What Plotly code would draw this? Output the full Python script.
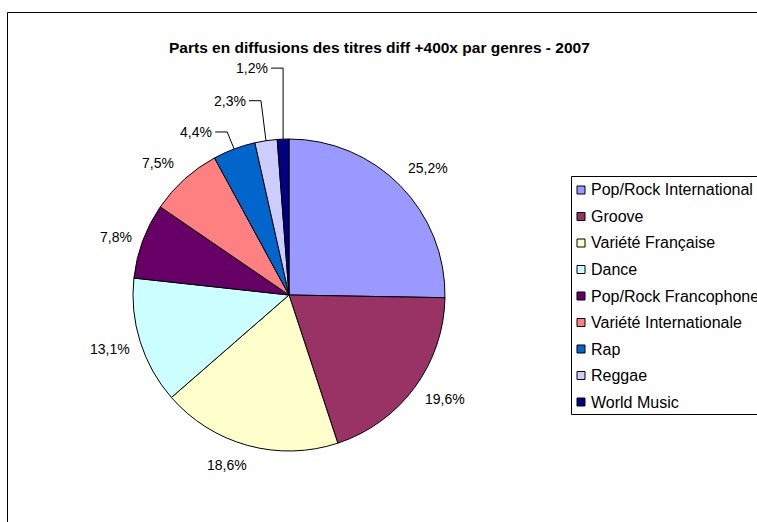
import math
import plotly.graph_objects as go

W, H = 757, 522

genres = ["Pop/Rock International", "Groove", "Variété Française", "Dance",
          "Pop/Rock Francophone", "Variété Internationale", "Rap", "Reggae", "World Music"]
parts = [25.2, 19.6, 18.6, 13.1, 7.8, 7.5, 4.4, 2.3, 1.2]
colors = ["#9999FF", "#993366", "#FFFFCC", "#CCFFFF", "#660066",
          "#FF8080", "#0066CC", "#CCCCFF", "#000080"]
title_text = "Parts en diffusions des titres diff +400x par genres - 2007"

FONT = "Liberation Sans, Arial, sans-serif"

# geometrie du camembert (pixels)
CX, CY, R = 289, 295, 156
LABEL_DIST = 185
# petits decalages des etiquettes exterieures (comme placees par Excel)
label_nudges = {"Pop/Rock International": (7, 3), "Groove": (7, -6), "Variété Française": (-13, -8),
                "Dance": (-2, -1), "Pop/Rock Francophone": (0, 6), "Variété Internationale": (-7, 5)}
# etiquettes deplacees a la main dans l'original (avec trait de rappel)
leader_offsets = {"Rap": (-7, -17), "Reggae": (-5, -40), "World Music": (0, -71)}


def px(x):
    return x / W


def py(y):
    return 1 - y / H


fig = go.Figure()
fig.add_trace(go.Pie(
    labels=genres,
    values=parts,
    sort=False,
    direction="clockwise",
    rotation=0,
    textinfo="none",
    hoverinfo="label+percent",
    showlegend=False,
    marker=dict(colors=colors, line=dict(color="black", width=1)),
    domain=dict(x=[px(CX - R), px(CX + R)], y=[py(CY + R), py(CY - R)]),
))

annotations = [dict(
    text="<b>" + title_text + "</b>", x=px(379), y=py(37), xref="paper", yref="paper",
    showarrow=False, font=dict(family=FONT, size=15.5, color="black"),
)]
shapes = [
    # cadre du graphique
    dict(type="rect", xref="paper", yref="paper", x0=px(7.5), y0=py(12.5), x1=px(W + 5), y1=py(H + 5),
         line=dict(color="black", width=1)),
    # cadre de la legende
    dict(type="rect", xref="paper", yref="paper", x0=px(571.5), y0=py(176.5), x1=px(W + 5), y1=py(414.5),
         line=dict(color="black", width=1), fillcolor="white"),
]

total = sum(parts)
cum = 0.0
for name, value in zip(genres, parts):
    theta = (cum + value / 2) / total * 2 * math.pi
    cum += value
    label = f"{value:.1f}".replace(".", ",") + "%"
    sx, sy = math.sin(theta), -math.cos(theta)
    if name in leader_offsets:
        ex, ey = CX + R * sx, CY + R * sy
        dx, dy = leader_offsets[name]
        kx, ky = ex + dx, ey + dy
        shapes.append(dict(
            type="path", xref="paper", yref="paper",
            path=f"M {px(ex)},{py(ey)} L {px(kx)},{py(ky)} L {px(kx - 12)},{py(ky)}",
            line=dict(color="black", width=1),
        ))
        annotations.append(dict(
            text=label, x=px(kx - 13), y=py(ky), xref="paper", yref="paper",
            xanchor="right", yanchor="middle", showarrow=False,
            font=dict(family=FONT, size=14, color="black"),
        ))
    else:
        nx, ny = label_nudges.get(name, (0, 0))
        annotations.append(dict(
            text=label, x=px(CX + LABEL_DIST * sx + nx), y=py(CY + LABEL_DIST * sy + ny),
            xref="paper", yref="paper", xanchor="center", yanchor="middle", showarrow=False,
            font=dict(family=FONT, size=14, color="black"),
        ))

# legende dessinee a la main
for i, (name, color) in enumerate(zip(genres, colors)):
    yc = 190 + i * 26.5
    shapes.append(dict(type="rect", xref="paper", yref="paper",
                       x0=px(577), y0=py(yc - 4), x1=px(585), y1=py(yc + 4),
                       fillcolor=color, line=dict(color="black", width=1)))
    annotations.append(dict(
        text=name, x=px(589), y=py(yc), xref="paper", yref="paper",
        xanchor="left", yanchor="middle", showarrow=False,
        font=dict(family=FONT, size=16, color="black"),
    ))

fig.update_layout(
    width=W, height=H,
    margin=dict(l=0, r=0, t=0, b=0),
    paper_bgcolor="white",
    plot_bgcolor="white",
    shapes=shapes,
    annotations=annotations,
)

# pas de marge autour du graphique dans la page
fig.write_html("out.html", config={"displayModeBar": False},
               post_script="document.body.style.margin = '0';")
